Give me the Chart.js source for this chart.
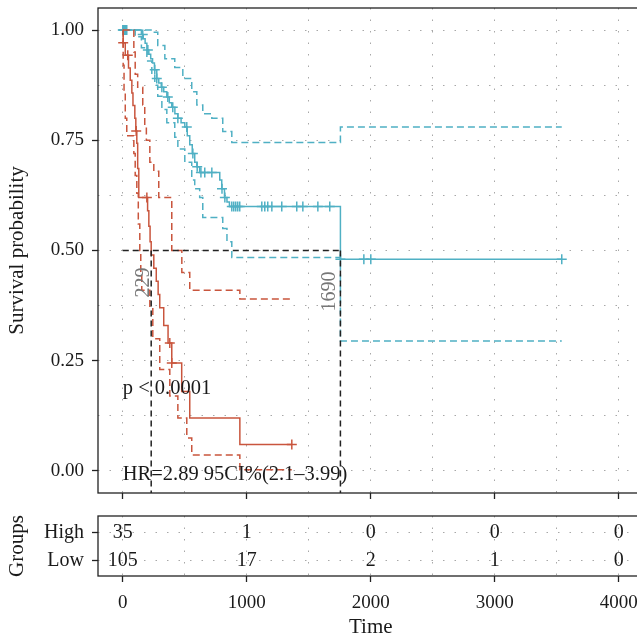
<!DOCTYPE html>
<html>
<head>
<meta charset="utf-8">
<script src="https://cdn.jsdelivr.net/npm/chart.js@4.4.0/dist/chart.umd.min.js"></script>
<style>
html, body { margin: 0; padding: 0; background: #fff; overflow: hidden; }
#wrap { position: relative; width: 637px; height: 639px; overflow: hidden; }
canvas { position: absolute; left: 0; }
#km { top: 0; }
#risk { top: 500px; }
</style>
</head>
<body>
<div id="wrap">
<canvas id="km" width="660" height="500"></canvas>
<canvas id="risk" width="660" height="139"></canvas>
</div>
<script>
// High group (red)
var redTime = [0, 3, 20, 46, 60, 73, 82, 97, 105, 113, 120, 129, 200, 210, 220, 229, 250, 270, 285, 298, 330, 365, 395, 475, 540, 944, 1363];
var redSurv = [1, 0.971, 0.943, 0.914, 0.886, 0.857, 0.829, 0.80, 0.771, 0.743, 0.686, 0.62, 0.59, 0.555, 0.52, 0.49, 0.46, 0.43, 0.40, 0.37, 0.33, 0.29, 0.245, 0.18, 0.12, 0.06, 0.06];
var redUpTime = [0, 89, 100, 120, 161, 177, 190, 218, 250, 290, 395, 476, 540, 944, 1363];
var redUpSurv = [1, 0.95, 0.90, 0.87, 0.83, 0.78, 0.75, 0.70, 0.68, 0.62, 0.50, 0.45, 0.41, 0.39, 0.39];
var redLoTime = [0, 3, 10, 20, 32, 89, 100, 113, 125, 137, 145, 153, 218, 242, 298, 379, 444, 516, 556, 944, 1363];
var redLoSurv = [1, 0.92, 0.86, 0.80, 0.76, 0.72, 0.67, 0.63, 0.56, 0.50, 0.45, 0.41, 0.37, 0.30, 0.23, 0.17, 0.12, 0.075, 0.036, 0.003, 0.003];
var redCensTime = [3, 40, 108, 194, 379, 395, 1363];
var redCensSurv = [0.971, 0.943, 0.771, 0.62, 0.29, 0.245, 0.06];

// Low group (blue)
var blueTime = [0, 150, 165, 180, 194, 210, 225, 240, 255, 274, 290, 310, 330, 355, 375, 395, 420, 444, 470, 500, 520, 540, 560, 580, 597, 620, 782, 798, 820, 840, 860, 1755, 3540];
var blueSurv = [1, 0.99, 0.98, 0.97, 0.955, 0.945, 0.935, 0.925, 0.91, 0.89, 0.88, 0.87, 0.86, 0.848, 0.835, 0.825, 0.81, 0.80, 0.79, 0.78, 0.76, 0.74, 0.72, 0.70, 0.69, 0.677, 0.66, 0.64, 0.62, 0.61, 0.60, 0.48, 0.48];
var blueUpTime = [0, 234, 282, 339, 419, 484, 556, 597, 645, 718, 806, 879, 1755, 3540];
var blueUpSurv = [1, 0.995, 0.965, 0.935, 0.915, 0.89, 0.86, 0.83, 0.81, 0.80, 0.77, 0.745, 0.78, 0.78];
var blueLoTime = [0, 100, 150, 194, 234, 258, 282, 315, 355, 419, 444, 500, 556, 580, 620, 645, 806, 840, 879, 1755, 3540];
var blueLoSurv = [1, 0.985, 0.96, 0.93, 0.90, 0.875, 0.85, 0.82, 0.79, 0.757, 0.73, 0.70, 0.66, 0.64, 0.62, 0.575, 0.55, 0.52, 0.484, 0.295, 0.295];
var blueCensTime = [0, 4, 8, 12, 16, 20, 24, 28, 32, 161, 202, 258, 274, 315, 363, 403, 444, 516, 565, 600, 630, 661, 718, 800, 823, 879, 895, 911, 927, 943, 1121, 1145, 1169, 1202, 1282, 1403, 1452, 1573, 1669, 1755, 1944, 2000, 3540];
var blueCensSurv = [1, 1, 1, 1, 1, 1, 1, 1, 1, 0.99, 0.955, 0.91, 0.89, 0.87, 0.848, 0.825, 0.80, 0.78, 0.72, 0.69, 0.677, 0.677, 0.677, 0.64, 0.62, 0.6, 0.6, 0.6, 0.6, 0.6, 0.6, 0.6, 0.6, 0.6, 0.6, 0.6, 0.6, 0.6, 0.6, 0.48, 0.48, 0.48, 0.48];

// medians
var medianTime = [229, 1755];
var medianLabel = ['229', '1690'];
var pText = 'p < 0.0001';
var hrText = 'HR=2.89 95CI%(2.1\u20133.99)';

// axes
var gridTimes = [0, 500, 1000, 1500, 2000, 2500, 3000, 3500, 4000];
var gridSurv = [0, 0.125, 0.25, 0.375, 0.5, 0.625, 0.75, 0.875, 1];

// risk table
var groupNames = ['High', 'Low'];
var riskTimes = [0, 1000, 2000, 3000, 4000];
var riskHigh = [35, 1, 0, 0, 0];
var riskLow = [105, 17, 2, 1, 0];

var RED = '#c9553d';
var BLUE = '#4fb0c4';
var X_MIN = -200, X_MAX = 4200;
var FONT = '"Liberation Serif", "Times New Roman", serif';

Chart.defaults.font.family = FONT;
Chart.defaults.font.size = 19;
Chart.defaults.color = '#1a1a1a';

function pts(times, vals) {
    return times.map(function (t, i) { return {x: t, y: vals[i]}; });
}

function stepLine(times, vals, color, dash) {
    return {
        data: pts(times, vals),
        showLine: true,
        stepped: true,
        borderColor: color,
        borderWidth: 1.5,
        borderDash: dash || [],
        pointRadius: 0,
        fill: false
    };
}

function censors(times, vals, color) {
    return {
        data: pts(times, vals),
        showLine: false,
        pointStyle: 'cross',
        pointRadius: 5,
        borderWidth: 1.5,
        borderColor: color,
        backgroundColor: color
    };
}

function medianLines() {
    var out = [];
    var far = Math.max.apply(null, medianTime);
    out.push({
        data: [{x: 0, y: 0.5}, {x: far, y: 0.5}],
        showLine: true, borderColor: '#222', borderWidth: 1.5, borderDash: [6, 4], pointRadius: 0
    });
    medianTime.forEach(function (m) {
        out.push({
            data: [{x: m, y: 0.5}, {x: m, y: -0.05}],
            showLine: true, borderColor: '#222', borderWidth: 1.5, borderDash: [6, 4], pointRadius: 0
        });
    });
    return out;
}

var frame = {
    id: 'frame',
    afterDraw: function (chart) {
        var a = chart.chartArea, ctx = chart.ctx;
        ctx.save();
        ctx.strokeStyle = '#222';
        ctx.lineWidth = 1.3;
        ctx.strokeRect(a.left, a.top, a.right - a.left, a.bottom - a.top);
        ctx.restore();
    }
};

var notes = {
    id: 'notes',
    afterDatasetsDraw: function (chart) {
        var ctx = chart.ctx, x = chart.scales.x, y = chart.scales.y;
        ctx.save();
        ctx.fillStyle = '#1a1a1a';
        ctx.font = '20.5px ' + FONT;
        ctx.textAlign = 'left';
        ctx.textBaseline = 'middle';
        ctx.fillText(pText, x.getPixelForValue(0), y.getPixelForValue(0.186));
        ctx.fillText(hrText, x.getPixelForValue(0), y.getPixelForValue(-0.009));
        // rotated median labels
        ctx.fillStyle = '#777';
        ctx.font = '20px ' + FONT;
        ctx.textAlign = 'center';
        medianTime.forEach(function (m, i) {
            var px = x.getPixelForValue(m) - (i === 0 ? 7 : 11);
            var py = y.getPixelForValue(0.5) + (i === 0 ? 32 : 41);
            ctx.save();
            ctx.translate(px, py);
            ctx.rotate(-Math.PI / 2);
            ctx.fillText(medianLabel[i], 0, 0);
            ctx.restore();
        });
        ctx.restore();
    }
};

var riskText = {
    id: 'riskText',
    afterDatasetsDraw: function (chart) {
        var ctx = chart.ctx;
        ctx.save();
        ctx.font = '20px ' + FONT;
        ctx.fillStyle = '#1a1a1a';
        ctx.textAlign = 'center';
        ctx.textBaseline = 'middle';
        chart.data.datasets.forEach(function (ds, i) {
            chart.getDatasetMeta(i).data.forEach(function (p, j) {
                ctx.fillText(String(ds.data[j].n), p.x, p.y);
            });
        });
        ctx.restore();
    }
};

var dotted = [1.5, 10];
var GRID = '#a8a8a8';

var km_chart = new Chart(document.getElementById('km').getContext('2d'), {
    type: 'scatter',
    data: {
        datasets: medianLines().concat([
            stepLine(redTime, redSurv, RED),
            stepLine(redUpTime, redUpSurv, RED, [7, 4]),
            stepLine(redLoTime, redLoSurv, RED, [7, 4]),
            censors(redCensTime, redCensSurv, RED),
            stepLine(blueTime, blueSurv, BLUE),
            stepLine(blueUpTime, blueUpSurv, BLUE, [7, 4]),
            stepLine(blueLoTime, blueLoSurv, BLUE, [7, 4]),
            censors(blueCensTime, blueCensSurv, BLUE)
        ])
    },
    options: {
        responsive: false,
        animation: false,
        layout: {padding: {left: 0, top: 8, right: 16.4, bottom: 0}},
        plugins: {legend: {display: false}, tooltip: {enabled: false}},
        scales: {
            x: {
                type: 'linear', min: X_MIN, max: X_MAX,
                afterBuildTicks: function (s) { s.ticks = gridTimes.map(function (v) { return {value: v}; }); },
                ticks: {display: false},
                grid: {
                    color: GRID, lineWidth: 1, tickLength: 6, tickWidth: 1.3,
                    tickColor: function (c) { return c.tick && c.tick.value % 1000 === 0 ? '#222' : 'rgba(0,0,0,0)'; }
                },
                border: {display: false, dash: dotted},
                afterFit: function (s) { s.height = 7; s.paddingLeft = 0; s.paddingRight = 0; }
            },
            y: {
                type: 'linear', min: -0.05, max: 1.05,
                afterBuildTicks: function (s) { s.ticks = gridSurv.map(function (v) { return {value: v}; }); },
                ticks: {
                    padding: 8, autoSkip: false,
                    callback: function (v) { return v % 0.25 === 0 ? v.toFixed(2) : ''; }
                },
                grid: {
                    color: GRID, lineWidth: 1, tickLength: 6, tickWidth: 1.3,
                    tickColor: function (c) { return c.tick && c.tick.value % 0.25 === 0 ? '#222' : 'rgba(0,0,0,0)'; }
                },
                border: {display: false, dash: dotted},
                title: {display: true, text: 'Survival probability', font: {size: 21}, padding: {top: 5, bottom: 0}},
                afterFit: function (s) { s.width = 98; s.paddingTop = 0; s.paddingBottom = 0; }
            }
        }
    },
    plugins: [frame, notes]
});

function riskRow(counts, row) {
    return {
        data: riskTimes.map(function (t, i) { return {x: t, y: row, n: counts[i]}; }),
        pointRadius: 0,
        showLine: false
    };
}

var risk_chart = new Chart(document.getElementById('risk').getContext('2d'), {
    type: 'scatter',
    data: {
        datasets: [riskRow(riskHigh, 2), riskRow(riskLow, 1)]
    },
    options: {
        responsive: false,
        animation: false,
        layout: {padding: {left: 0, top: 16, right: 16.4, bottom: 0}},
        plugins: {legend: {display: false}, tooltip: {enabled: false}},
        scales: {
            x: {
                type: 'linear', min: X_MIN, max: X_MAX,
                afterBuildTicks: function (s) { s.ticks = gridTimes.map(function (v) { return {value: v}; }); },
                ticks: {
                    padding: 10, autoSkip: false, maxRotation: 0,
                    callback: function (v) { return v % 1000 === 0 ? String(v) : ''; }
                },
                grid: {
                    color: GRID, lineWidth: 1, tickLength: 6, tickWidth: 1.3,
                    tickColor: function (c) { return c.tick && c.tick.value % 1000 === 0 ? '#222' : 'rgba(0,0,0,0)'; }
                },
                border: {display: false, dash: dotted},
                title: {display: true, text: 'Time', font: {size: 21}, padding: {top: 0, bottom: -1}},
                afterFit: function (s) { s.height = 63; s.paddingLeft = 0; s.paddingRight = 0; }
            },
            y: {
                type: 'linear', min: 0.464, max: 2.607,
                afterBuildTicks: function (s) { s.ticks = [{value: 1}, {value: 2}]; },
                ticks: {
                    padding: 8, autoSkip: false, font: {size: 20},
                    callback: function (v) { return v === 2 ? groupNames[0] : groupNames[1]; }
                },
                grid: {color: GRID, lineWidth: 1, tickLength: 6, tickWidth: 1.3, tickColor: '#222'},
                border: {display: false, dash: dotted},
                title: {display: true, text: 'Groups', font: {size: 21}, padding: {top: 5, bottom: 0}},
                afterFit: function (s) { s.width = 98; s.paddingTop = 0; s.paddingBottom = 0; }
            }
        }
    },
    plugins: [frame, riskText]
});
</script>
</body>
</html>
